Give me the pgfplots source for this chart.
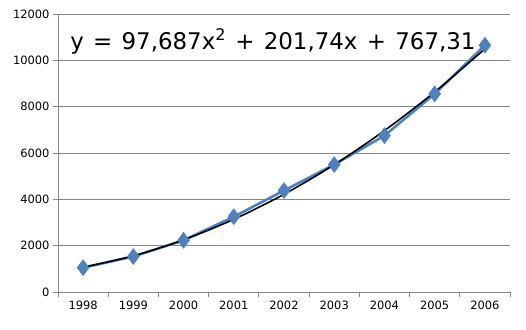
\documentclass[border=0pt]{standalone}
\usepackage{pgfplots}
\pgfplotsset{compat=1.18}
\usepackage{fontspec}
\setmainfont{DejaVu Sans}
\definecolor{serblue}{HTML}{4F81BD}
\definecolor{axgray}{HTML}{868686}
\begin{document}
\begin{tikzpicture}
\path[use as bounding box] (0,0) rectangle (526bp,330bp);
\begin{axis}[
  at={(58bp,38bp)}, anchor=south west,
  scale only axis, width=452bp, height=278bp,
  xmin=0.5, xmax=9.5, ymin=0, ymax=12000,
  axis x line*=bottom, axis y line*=left,
  axis line style={axgray, line width=0.8pt},
  xtick={0.5,1.5,...,9.5},
  xticklabels={1998,1999,2000,2001,2002,2003,2004,2005,2006},
  x tick label as interval,
  ytick={0,2000,...,12000},
  ymajorgrids, grid style={axgray, line width=0.8pt},
  tick style={axgray, line width=0.8pt},
  tick align=outside, major tick length=5bp,
  tick label style={font=\fontsize{11.5}{13}\selectfont},
  /pgf/number format/assume math mode=true,
  /pgf/number format/1000 sep={},
  scaled y ticks=false,
  clip=false,
]
\addplot[serblue, line width=2.6pt, mark=diamond*, mark size=8bp,
  mark options={fill=serblue, draw=serblue, line width=0.5pt}]
  coordinates {(1,1050) (2,1530) (3,2230) (4,3250) (5,4380) (6,5500) (7,6750) (8,8550) (9,10650)};
\addplot[black, line width=1.6pt, smooth]
  coordinates {(1,1066.7) (2,1561.5) (3,2251.7) (4,3137.2) (5,4218.2) (6,5494.5) (7,6966.2) (8,8633.2) (9,10495.6)};
\node[anchor=base west, inner sep=0pt, font=\fontsize{23}{26}\selectfont] at (axis cs:0.74,10450) {\spaceskip=9.3bp y = 97,687x\textsuperscript{2} + 201,74x + 767,31};
\end{axis}
\end{tikzpicture}
\end{document}
